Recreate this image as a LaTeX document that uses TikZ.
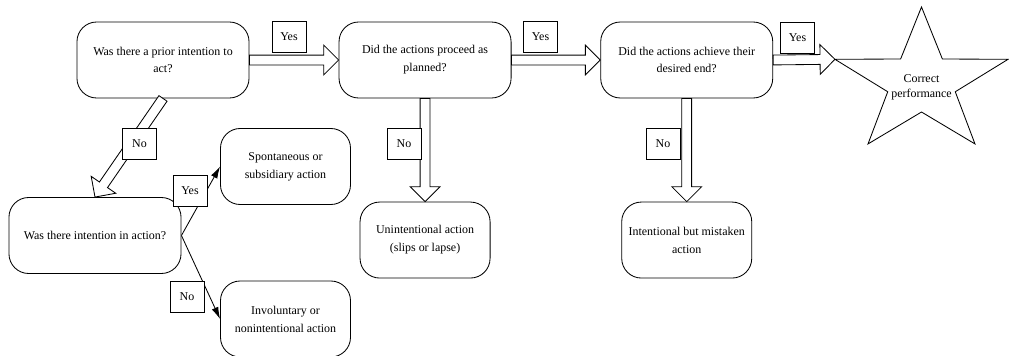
\documentclass[tikz,border=0pt]{standalone}
\usepackage{fontspec}
\setmainfont{Liberation Serif}
\usetikzlibrary{arrows.meta, positioning, calc}

% block arrow with an open head, from #1 to the tip #2
\newcommand{\hollowarrow}[2]{%
  \coordinate (hb) at ($(#2)!10.6pt!(#1)$);
  \draw[hollow] ($(#1)!3.5pt!90:(#2)$) -- ($(hb)!3.5pt!-90:(#1)$) -- ($(hb)!10.6pt!-90:(#1)$) -- (#2)
    -- ($(hb)!10.6pt!90:(#1)$) -- ($(hb)!3.5pt!90:(#1)$) -- ($(#1)!3.5pt!-90:(#2)$) -- cycle;}

\begin{document}
\begin{tikzpicture}[x=0.025cm,y=-0.025cm,node distance=2cm,on grid,>={Latex[length=8.5pt,width=5pt]},
        every node/.style={font=\fontsize{8.5}{12.7}\selectfont},
        question/.style={draw, rounded corners=14pt, line width=0.6pt, align=center, minimum width=4.3cm, minimum height=1.9cm, inner sep=2pt},
        outcome/.style={question, minimum width=3.25cm},
        tag/.style={draw, fill=white, line width=0.5pt, minimum width=0.85cm, minimum height=0.77cm, inner sep=1pt},
        hollow/.style={draw, fill=white, line width=0.6pt, line join=miter}]
    \useasboundingbox (0,0) rectangle (1009,356);

      \node[question] (A) at (163,60)        {Was there a prior intention to\\act?};
      \node[question] (B) [right=6.55cm of A] {Did the actions proceed as\\planned?};
      \node[question] (C) [right=6.54cm of B] {Did the actions achieve their\\desired end?};
      \node[question] (D) at (95,235.5)      {Was there intention in action?};
      \node[outcome]  (E) at (285.5,166.5)   {Spontaneous or\\subsidiary action};
      \node[outcome]  (F) at (285.5,319)     {Involuntary or\\nonintentional action};
      \node[outcome]  (G) [below=4.5cm of B] {Unintentional action\\(slips or lapse)};
      \node[outcome]  (H) [below=4.5cm of C] {Intentional but mistaken\\action};

      % the star
      \coordinate (stc) at (921.5,82.7);
      \draw[hollow] ($(stc)+(270:91 and 75.7)$) foreach \i in {0,...,4} {
          -- ($(stc)+(306+72*\i:35.5 and 29.3)$) -- ($(stc)+(342+72*\i:91 and 75.7)$) } -- cycle;
      \node[align=center, font=\fontsize{8.5}{10.6}\selectfont] (st) at (921.5,87) {Correct\\performance};
      \coordinate (stL) at ($(stc)+(198:91 and 75.7)$);

      \hollowarrow{A.east}{B.west}
      \hollowarrow{B.east}{C.west}
      \hollowarrow{C.east}{stL}
      \hollowarrow{A.south}{D.north}
      \hollowarrow{B.south}{G.north}
      \hollowarrow{C.south}{H.north}

      \path[->, line width=0.6pt] (D.east) edge (E.west)
                                         edge (F.west);

      \node[tag] (yes1) at (289,37)      {Yes};
      \node[tag] (yes2) at (540.5,37)    {Yes};
      \node[tag] (yes3) at (797.5,37.5)  {Yes};
      \node[tag] (no1)  at (139.5,143.5) {No};
      \node[tag] (no2)  at (404,143.5)   {No};
      \node[tag] (no3)  at (663,143.5)   {No};
      \node[tag] (yes4) at (190,190.5)   {Yes};
      \node[tag] (no4)  at (187,296.5)   {No};
    \end{tikzpicture}
\end{document}
